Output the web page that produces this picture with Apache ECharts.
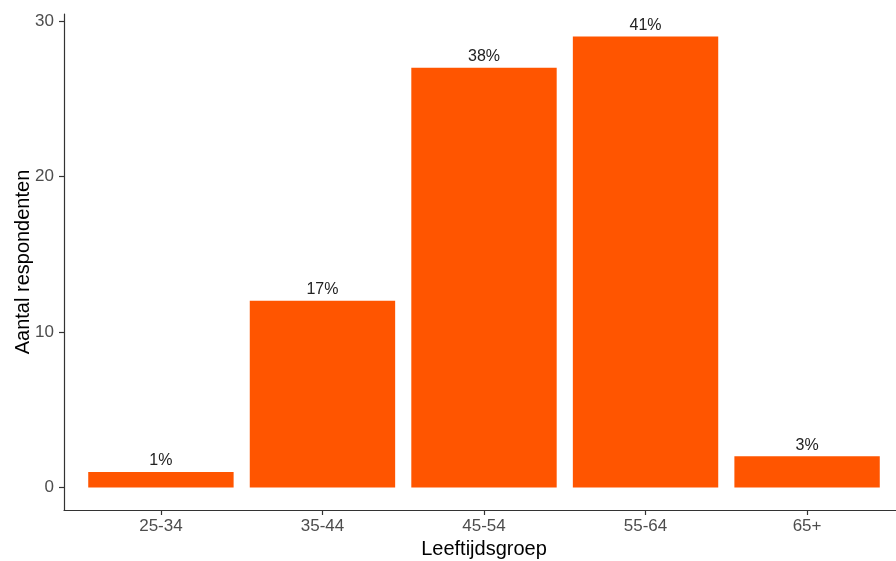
<!DOCTYPE html>
<html>
<head>
<meta charset="utf-8">
<script src="https://cdn.jsdelivr.net/npm/echarts@6/dist/echarts.min.js"></script>
<style>
html,body{margin:0;padding:0;background:#fff;overflow:hidden;}
#chart{width:896px;height:561px;}
</style>
</head>
<body>
<div id="chart"></div>
<script>
const categories = ['25-34', '35-44', '45-54', '55-64', '65+'];
const counts = [1, 12, 27, 29, 2];
const percentLabels = ['1%', '17%', '38%', '41%', '3%'];
const yTicks = [0, 10, 20, 30];

const FONT = '"Liberation Sans", Arial, Helvetica, sans-serif';
const chart = echarts.init(document.getElementById('chart'));
const seriesData = counts.map((v, i) => ({ value: [i + 1, v], label: { formatter: percentLabels[i] } }));

chart.setOption({
  animation: false,
  grid: { left: 64, width: 840, top: 14, bottom: 51, outerBoundsMode: 'none', containLabel: false },
  xAxis: {
    type: 'value',
    min: 0.4,
    max: 5.6,
    name: 'Leeftijdsgroep',
    nameLocation: 'middle',
    nameGap: 29,
    nameMoveOverlap: false,
    nameTextStyle: { fontFamily: FONT, fontSize: 20, color: '#000' },
    axisLine: { onZero: false, lineStyle: { color: '#333', width: 1.2 } },
    axisTick: { show: true, length: 5, customValues: [1, 2, 3, 4, 5], lineStyle: { color: '#333', width: 1.2 } },
    axisLabel: {
      customValues: [1, 2, 3, 4, 5],
      formatter: v => categories[Math.round(v) - 1],
      fontFamily: FONT, fontSize: 17, color: '#4d4d4d', margin: 8
    },
    splitLine: { show: false }
  },
  yAxis: {
    type: 'value',
    min: -1.45,
    max: 30.45,
    name: 'Aantal respondenten',
    nameLocation: 'middle',
    nameGap: 31,
    nameMoveOverlap: false,
    nameTextStyle: { fontFamily: FONT, fontSize: 20, color: '#000' },
    axisLine: { show: true, lineStyle: { color: '#333', width: 1.2 } },
    axisTick: { show: true, length: 5, customValues: yTicks, lineStyle: { color: '#333', width: 1.2 } },
    axisLabel: { customValues: yTicks, fontFamily: FONT, fontSize: 17, color: '#4d4d4d', margin: 10 },
    splitLine: { show: false }
  },
  series: [{
    type: 'bar',
    data: seriesData,
    barWidth: '90%',
    itemStyle: { color: '#FF5500' },
    label: { show: true, position: 'top', distance: 3, fontFamily: FONT, fontSize: 16, color: '#222' }
  }]
});
</script>
</body>
</html>
